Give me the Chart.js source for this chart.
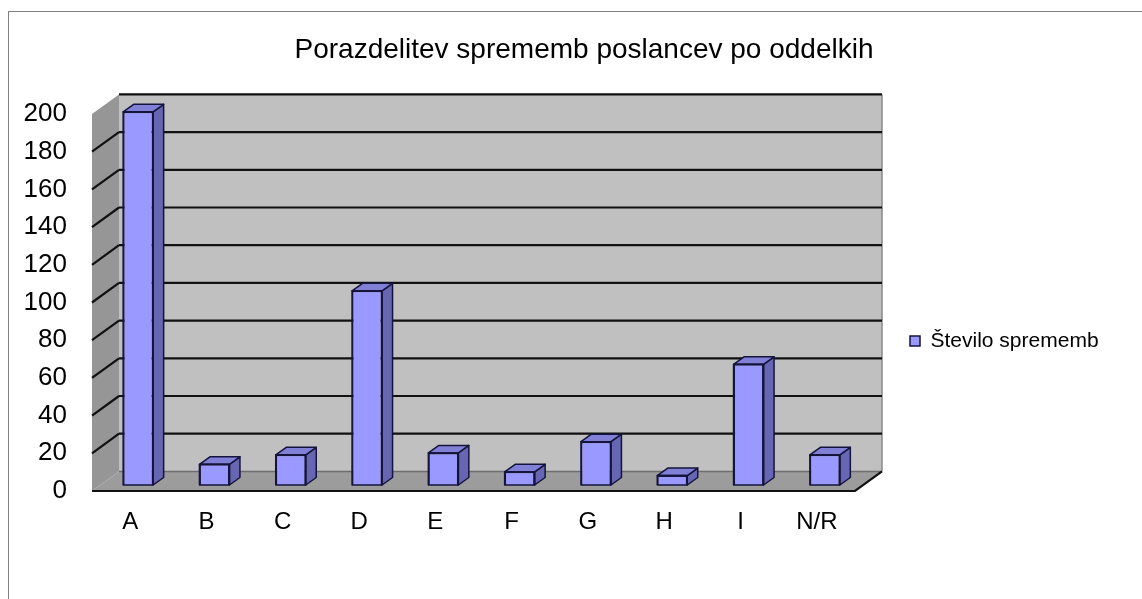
<!DOCTYPE html>
<html>
<head>
<meta charset="utf-8">
<script src="https://cdn.jsdelivr.net/npm/chart.js@4.4.0/dist/chart.umd.min.js"></script>
<style>
html,body{margin:0;padding:0;background:#fff;}
#wrap{width:1142px;height:599px;}
</style>
</head>
<body>
<div id="wrap"><canvas id="c" width="1142" height="599"></canvas></div>
<script>
// ---- data ----
const chartTitle = 'Porazdelitev sprememb poslancev po oddelkih';
const categories = ['A', 'B', 'C', 'D', 'E', 'F', 'G', 'H', 'I', 'N/R'];
const seriesName = 'Število sprememb';
const changes = [198, 11, 16, 103, 17, 7, 23, 5, 64, 16];
const yMin = 0, yMax = 200, yStep = 20;

// ---- styling / 3D geometry ----
const WALL_DX = 27, WALL_DY = -19.6;   // depth of the box (walls)
const BAR_DX = 8, BAR_DY = -6;         // bar front face offset inside the box
const FACE_DX = 10.5, FACE_DY = -7.5;  // bar depth
const BAR_FRONT = '#9999FF', BAR_SIDE = '#6666B3', BAR_TOP = '#8080D6', BAR_EDGE = '#14143C';

const threeD = {
  id: 'threeD',
  beforeDraw(chart) {
    const ctx = chart.ctx;
    ctx.save();
    ctx.fillStyle = '#fff';
    ctx.fillRect(0, 0, chart.width, chart.height);
    ctx.strokeStyle = '#808080';
    ctx.lineWidth = 1;
    ctx.strokeRect(8.5, 11.5, chart.width + 10, chart.height + 10);
    ctx.restore();
  },
  afterLayout(chart) {
    const lg = chart.legend;
    if (lg) { lg.left = 900; lg.right = 1130; lg.top = 321; lg.bottom = 361; }
    const tb = chart.titleBlock;
    if (tb) { tb.left = 0; tb.right = 1168; }
  },
  beforeDatasetsDraw(chart) {
    const ctx = chart.ctx;
    const L = chart.chartArea.left, R = chart.chartArea.right;
    const y = chart.scales.y;
    const T = y.getPixelForValue(yMax), B = y.getPixelForValue(yMin);
    ctx.save();
    // back wall
    ctx.fillStyle = '#C0C0C0';
    ctx.fillRect(L + WALL_DX, T + WALL_DY, R - L, B - T);
    // left side wall
    ctx.fillStyle = '#969696';
    ctx.beginPath();
    ctx.moveTo(L, T); ctx.lineTo(L + WALL_DX, T + WALL_DY);
    ctx.lineTo(L + WALL_DX, B + WALL_DY); ctx.lineTo(L, B); ctx.closePath();
    ctx.fill();
    // floor
    ctx.fillStyle = '#9C9C9C';
    ctx.beginPath();
    ctx.moveTo(L, B); ctx.lineTo(L + WALL_DX, B + WALL_DY);
    ctx.lineTo(R + WALL_DX, B + WALL_DY); ctx.lineTo(R, B); ctx.closePath();
    ctx.fill();
    // back wall right edge
    ctx.strokeStyle = '#8a8a8a'; ctx.lineWidth = 1.5;
    ctx.beginPath();
    ctx.moveTo(R + WALL_DX, T + WALL_DY); ctx.lineTo(R + WALL_DX, B + WALL_DY);
    ctx.stroke();
    // back floor line
    ctx.strokeStyle = '#6e6e6e';
    ctx.beginPath();
    ctx.moveTo(L + WALL_DX, B + WALL_DY); ctx.lineTo(R + WALL_DX, B + WALL_DY);
    ctx.stroke();
    // gridlines
    ctx.strokeStyle = '#111'; ctx.lineWidth = 2.2;
    for (let v = yMin + yStep; v <= yMax; v += yStep) {
      const py = y.getPixelForValue(v);
      ctx.beginPath();
      ctx.moveTo(L + WALL_DX, py + WALL_DY); ctx.lineTo(R + WALL_DX, py + WALL_DY);
      if (v < yMax) { ctx.moveTo(L, py); ctx.lineTo(L + WALL_DX, py + WALL_DY); }
      ctx.stroke();
    }
    // floor front + right edge
    ctx.beginPath();
    ctx.moveTo(L, B); ctx.lineTo(R, B); ctx.lineTo(R + WALL_DX, B + WALL_DY);
    ctx.stroke();
    ctx.restore();
  },
  beforeDatasetDraw(chart) {
    chart.ctx.save();
    chart.ctx.translate(BAR_DX, BAR_DY);
  },
  afterDatasetDraw(chart, args) {
    const ctx = chart.ctx;
    const meta = args.meta;
    ctx.lineWidth = 1.5;
    ctx.lineJoin = 'round';
    ctx.strokeStyle = BAR_EDGE;
    meta.data.forEach(bar => {
      const p = bar.getProps(['x', 'y', 'base', 'width'], true);
      const l = p.x - p.width / 2, r = p.x + p.width / 2, t = p.y, b = p.base;
      // side face
      ctx.fillStyle = BAR_SIDE;
      ctx.beginPath();
      ctx.moveTo(r, t); ctx.lineTo(r + FACE_DX, t + FACE_DY);
      ctx.lineTo(r + FACE_DX, b + FACE_DY); ctx.lineTo(r, b); ctx.closePath();
      ctx.fill(); ctx.stroke();
      // top face
      ctx.fillStyle = BAR_TOP;
      ctx.beginPath();
      ctx.moveTo(l, t); ctx.lineTo(l + FACE_DX, t + FACE_DY);
      ctx.lineTo(r + FACE_DX, t + FACE_DY); ctx.lineTo(r, t); ctx.closePath();
      ctx.fill(); ctx.stroke();
      // front outline
      ctx.strokeRect(l, t, r - l, b - t);
    });
    ctx.restore();
  }
};

Chart.defaults.font.family = "'Liberation Sans', Arial, sans-serif";
Chart.defaults.color = '#000';

new Chart(document.getElementById('c'), {
  type: 'bar',
  data: {
    labels: categories,
    datasets: [{
      label: seriesName,
      data: changes,
      backgroundColor: BAR_FRONT,
      borderColor: BAR_EDGE,
      borderWidth: 1.5,
      categoryPercentage: 1,
      barPercentage: 0.393,
      clip: false
    }]
  },
  options: {
    responsive: false,
    animation: false,
    layout: { padding: { left: 12, right: 187, top: 0, bottom: 48 } },
    plugins: {
      title: {
        display: true,
        text: chartTitle,
        font: { size: 28, weight: 'normal' },
        color: '#000',
        padding: { top: 33, bottom: 47.4 }
      },
      legend: {
        display: true,
        position: 'right',
        maxWidth: 100,
        labels: { boxWidth: 10, boxHeight: 10, padding: 10, font: { size: 21 }, color: '#000' }
      },
      tooltip: { enabled: false }
    },
    scales: {
      x: {
        grid: { display: false, drawTicks: false },
        border: { display: false },
        ticks: { font: { size: 24 }, color: '#000', padding: 17, maxRotation: 0 },
        afterFit: s => { s.height = 60; }
      },
      y: {
        min: yMin, max: yMax,
        grid: { display: false, drawTicks: false },
        border: { display: false },
        ticks: { stepSize: yStep, font: { size: 26 }, color: '#000', padding: 25 },
        afterFit: s => { s.width = 80; }
      }
    }
  },
  plugins: [threeD]
});
</script>
</body>
</html>
